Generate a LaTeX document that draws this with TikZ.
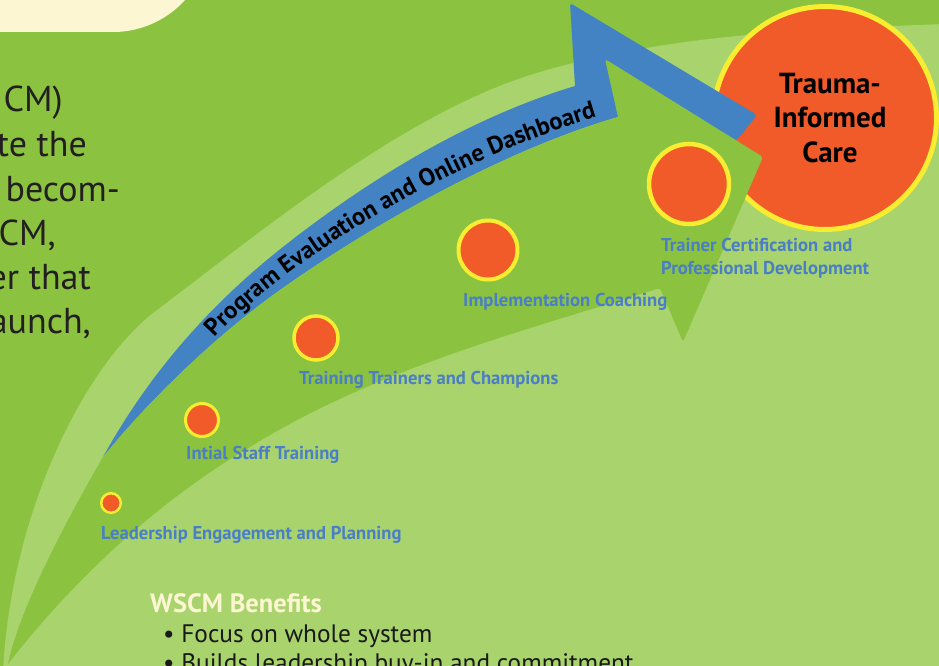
\documentclass[tikz,border=0pt]{standalone}
\usepackage{fontspec}
\setmainfont{PT Sans}
\usetikzlibrary{decorations.text}
\definecolor{leafgreen}{HTML}{8BC341}
\definecolor{palegreen}{HTML}{A9D36C}
\definecolor{bandblue}{HTML}{4383C4}
\definecolor{labelblue}{HTML}{4A7EC6}
\definecolor{cream}{HTML}{FCF6D2}
\definecolor{stepfill}{HTML}{F15A29}
\definecolor{ringyellow}{HTML}{F9ED32}
\definecolor{inkgray}{HTML}{231F20}
\begin{document}
\begin{tikzpicture}[x=1pt,y=-1pt,
  milestone/.style={circle, fill=stepfill, draw=ringyellow, inner sep=0pt, outer sep=0pt},
  steplabel/.style={anchor=west, inner sep=0pt, text=labelblue, font=\bfseries\fontsize{18.6}{23}\selectfont, align=left},
  bodytext/.style={anchor=base east, inner sep=0pt, text=inkgray, font=\fontsize{36}{44}\selectfont},
  benefit/.style={anchor=base west, inner sep=0pt, text=black!90, font=\fontsize{25.3}{30}\selectfont},
]
\useasboundingbox (0,0) rectangle (939,666);
\clip (0,0) rectangle (939,666);
% background
\fill[leafgreen] (0,0) rectangle (939,666);
\fill[cream, rounded corners=97pt] (-100,-300) rectangle (210,32);
% pale sweep
\fill[palegreen] (3,672) .. controls (11,512) and (85,364) .. (157,310)
  .. controls (261,232) and (406,111) .. (540,72)
  .. controls (670,34) and (810,29) .. (945,24) -- (945,672) -- cycle;
% goal circle
\node[milestone, line width=5pt, minimum size=223pt] (care) at (825,118) {};
% blue evaluation arrow
\coordinate (btip) at (103,457);
\coordinate (bbarb) at (618,117);
\fill[bandblue] (btip) .. controls (150,372) and (212,302) .. (288,243)
  .. controls (374,176) and (472,117) .. (575,86)
  [rounded corners=3pt] -- (570,3) -- (757,115) -- (737,140) -- (bbarb) [sharp corners]
  .. controls (512,148) and (388,215) .. (290,283)
  .. controls (220,331) and (150,399) .. (btip) -- cycle;
% green implementation arrow
\coordinate (gtail) at (8,664);
\fill[leafgreen] (gtail) .. controls (20,604) and (78,500) .. (btip)
  .. controls (150,399) and (220,331) .. (290,283)
  .. controls (388,215) and (512,148) .. (bbarb)
  [rounded corners=3pt] -- (605,59) -- (763,157) -- (683,342) -- (660,288) [sharp corners]
  .. controls (520,332) and (376,369) .. (250,447)
  .. controls (157,502) and (74,579) .. (gtail) -- cycle;
% text along the blue arrow
\coordinate (tstart) at (215,338);
\coordinate (tend) at (630,108);
\path[decorate, decoration={text along path,
  text={|\color{black}\bfseries\fontsize{24.5}{24.5}\selectfont|Program Evaluation and Online Dashboard}}]
  (tstart) .. controls (297,250) and (477,145) .. (tend);
% goal label
\node[align=center, inner sep=0pt, font=\bfseries\fontsize{29}{34.5}\selectfont] (carelabel) at (830,118) {Trauma-\\Informed\\Care};
% milestones
\node[milestone, line width=2.5pt, minimum size=19.5pt] (m1) at (111,503) {};
\node[milestone, line width=3pt, minimum size=33pt] (m2) at (202,420) {};
\node[milestone, line width=3.5pt, minimum size=44pt] (m3) at (316,338) {};
\node[milestone, line width=4pt, minimum size=59pt] (m4) at (488,250) {};
\node[milestone, line width=4.5pt, minimum size=80pt] (m5) at (689,184) {};
\node[steplabel] (l1) at (101,535) {Leadership Engagement and Planning};
\node[steplabel] (l2) at (186,455) {Intial Staff Training};
\node[steplabel] (l3) at (299,380) {Training Trainers and Champions};
\node[steplabel] (l4) at (463,302) {Implementation Coaching};
\node[steplabel] (l5) at (661,258) {Trainer Certification and\\Professional Development};
% paragraph tails
\node[bodytext] (p1) at (63,112) {CM)};
\node[bodytext] (p2) at (87,156) {te the};
\node[bodytext] (p3) at (120,201) {becom-};
\node[bodytext] (p4) at (56,245) {CM,};
\node[bodytext] (p5) at (91,289) {er that};
\node[bodytext] (p6) at (91,333) {aunch,};
% benefits
\node[anchor=base west, inner sep=0pt, text=cream, font=\bfseries\fontsize{26.5}{26.5}\selectfont] (bhead) at (150,612) {WSCM Benefits};
\node[benefit] (b1) at (163,642) {\textbullet\ Focus on whole system};
\node[benefit] (b2) at (163,671) {\textbullet\ Builds leadership buy-in and commitment};
\end{tikzpicture}
\end{document}
